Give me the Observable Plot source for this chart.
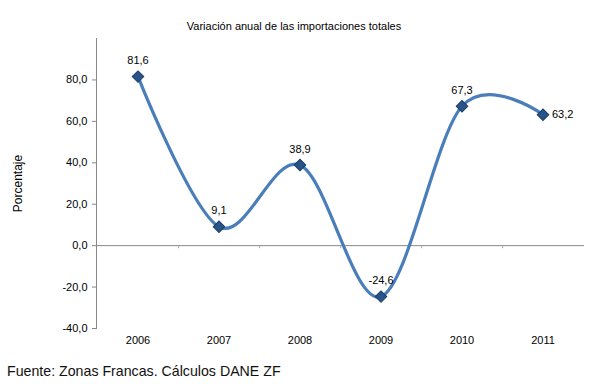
<!DOCTYPE html>
<html>
<head>
<meta charset="utf-8">
<script src="https://cdn.jsdelivr.net/npm/d3@7"></script>
<script src="https://cdn.jsdelivr.net/npm/@observablehq/plot@0.6"></script>
<style>
  html, body { margin: 0; padding: 0; background: #fff; }
  #wrap { position: relative; width: 601px; height: 384px; overflow: hidden; font-family: "Liberation Sans", Arial, sans-serif; }
  #title { position: absolute; left: 0; width: 588px; top: 20px; text-align: center; font-size: 11px; color: #000; }
  #foot { position: absolute; left: 7px; top: 363px; font-size: 14.2px; color: #111; }
  #wrap svg { position: absolute; left: 0; top: 0; }
  #wrap svg g[aria-label="y-axis label"] text { font-size: 12px; }
</style>
</head>
<body>
<div id="wrap">
  <div id="title">Variación anual de las importaciones totales</div>
  <div id="foot">Fuente: Zonas Francas. Cálculos DANE ZF</div>
</div>
<script>
const years = ["2006", "2007", "2008", "2009", "2010", "2011"];
const values = [81.6, 9.1, 38.9, -24.6, 67.3, 63.2];
const yTicks = [-40, -20, 0, 20, 40, 60, 80];

const data = years.map((y, i) => ({year: y, value: values[i]}));
const fmt = v => v.toFixed(1).replace(".", ",");

const chart = Plot.plot({
  width: 601,
  height: 384,
  marginLeft: 96,
  marginRight: 17,
  marginTop: 38,
  marginBottom: 56,
  style: {fontFamily: "'Liberation Sans', Arial, sans-serif", fontSize: "11px", color: "#000", background: "transparent"},
  x: {type: "band", domain: years, padding: 0},
  y: {domain: [-40, 100]},
  marks: [
    Plot.frame({anchor: "left", stroke: "#888"}),
    Plot.ruleY([0], {stroke: "#888"}),
    Plot.ruleX(years.slice(0, -1), {x: d => d, dx: 488 / 12, y1: 0, y2: -1.5, stroke: "#aaa"}),
    Plot.axisY({ticks: yTicks, tickFormat: fmt, tickSize: 4, tickPadding: 5, stroke: "#888", label: "Porcentaje", labelAnchor: "center", labelArrow: "none", labelOffset: 83}),
    Plot.axisX({tickSize: 0, tickPadding: 8, label: null}),
    Plot.line(data, {x: "year", y: "value", curve: "cardinal", stroke: "#4a7ebb", strokeWidth: 3.2}),
    Plot.dot(data, {x: "year", y: "value", symbol: "square", rotate: 45, r: 4.6, fill: "#27558a", stroke: "#1b3d66", strokeWidth: 1}),
    Plot.text(data.slice(0, 5), {x: "year", y: "value", text: d => fmt(d.value), dy: -16, fill: "#000"}),
    Plot.text(data.slice(5), {x: "year", y: "value", text: d => fmt(d.value), dx: 9, textAnchor: "start", fill: "#000"})
  ]
});
document.getElementById("wrap").appendChild(chart);
</script>
</body>
</html>
